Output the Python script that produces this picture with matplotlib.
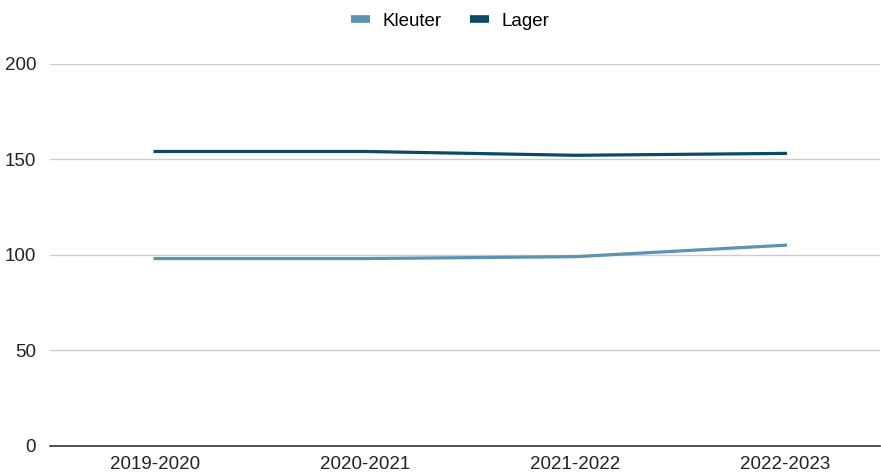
import matplotlib.pyplot as plt

plt.rcParams["font.family"] = ["Liberation Sans", "DejaVu Sans"]

years = ["2019-2020", "2020-2021", "2021-2022", "2022-2023"]
kleuter = [98, 98, 99, 105]
lager = [154, 154, 152, 153]

fig = plt.figure(figsize=(8.81, 4.74), dpi=100)
ax = fig.add_axes([50 / 881, 1 - 446 / 474, 830 / 881, (446 - 63.5) / 474])

x = range(len(years))
ax.plot(x, kleuter, color="#5b93b0", linewidth=2.3, label="Kleuter")
ax.plot(x, lager, color="#0b4a63", linewidth=2.3, label="Lager")

ax.set_ylim(0, 200)
ax.set_xlim(-0.5, 3.45)
ax.set_yticks([0, 50, 100, 150, 200])
ax.set_xticks(list(x))
ax.set_xticklabels(years)
ax.tick_params(axis="both", length=0, labelsize=13.5, colors="#222222")
ax.tick_params(axis="y", pad=10)
ax.tick_params(axis="x", pad=7)
ax.grid(axis="y", color="#cccccc", linewidth=1)
ax.set_axisbelow(True)
for side in ["top", "right", "left"]:
    ax.spines[side].set_visible(False)
ax.spines["bottom"].set_color("#333333")
ax.spines["bottom"].set_linewidth(1.2)

handles, labels = ax.get_legend_handles_labels()
leg = fig.legend(handles, labels, loc="center", bbox_to_anchor=(450 / 881, 1 - 21 / 474),
                 ncol=2, frameon=False, fontsize=13.5, handlelength=1.05,
                 columnspacing=1.5, handletextpad=0.65)
for line in leg.get_lines():
    line.set_linewidth(5.5)
    line.set_solid_capstyle("butt")

fig.savefig("out.png", dpi=100)
